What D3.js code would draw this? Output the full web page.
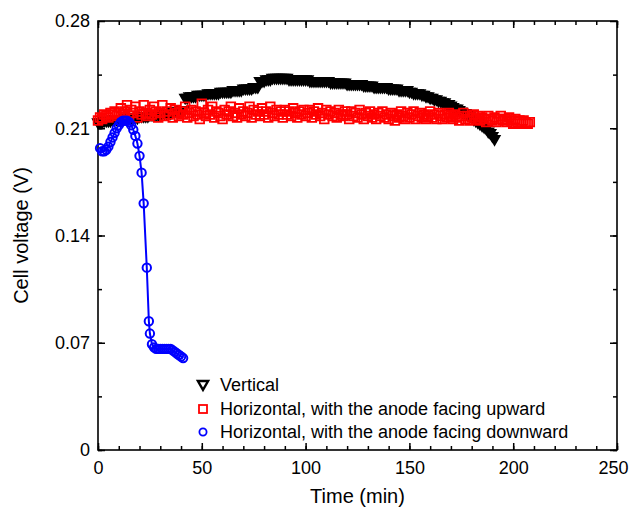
<!DOCTYPE html>
<html>
<head>
    <script src="https://cdn.jsdelivr.net/npm/d3@7"></script>
    <style>
        body { margin: 0; background: #fff; }
        text { font-family: "Liberation Sans", Arial, sans-serif; fill: #000; }
    </style>
</head>
<body>
<div id="chart"></div>
<script>

    // readings, one per minute
    var vertVolt = [
        .214,.214,.214,.215,.215,.215,.215,.216,.216,.216,
        .216,.216,.216,.217,.217,.217,.217,.217,.217,.217,
        .218,.218,.218,.218,.218,.219,.219,.219,.219,.219,
        .219,.220,.220,.220,.220,.220,.221,.221,.221,.221,
        .222,.222,.230,.230,.231,.231,.231,.231,.232,.232,
        .232,.232,.232,.233,.233,.233,.233,.233,.233,.234,
        .234,.234,.234,.234,.234,.235,.235,.235,.235,.235,
        .236,.236,.236,.236,.236,.237,.237,.237,.241,.241,
        .241,.242,.242,.242,.243,.243,.243,.243,.243,.243,
        .243,.243,.242,.242,.242,.242,.242,.242,.242,.242,
        .242,.242,.241,.241,.241,.241,.241,.241,.241,.241,
        .241,.241,.240,.240,.240,.240,.240,.240,.240,.240,
        .239,.239,.239,.239,.239,.239,.239,.239,.238,.238,
        .238,.238,.238,.237,.237,.237,.237,.237,.237,.237,
        .236,.236,.236,.236,.236,.235,.235,.235,.235,.235,
        .234,.234,.233,.233,.233,.233,.232,.232,.231,.231,
        .230,.230,.229,.229,.228,.228,.227,.227,.226,.226,
        .225,.224,.223,.223,.222,.221,.220,.220,.219,.218,
        .217,.216,.215,.214,.213,.212,.211,.210,.208,.207,
        .205,.203];
    var vertTime = d3.range(0, vertVolt.length);

    var upVolt = [
        .215,.217,.216,.219,.218,.217,.220,.219,.221,.218,
        .220,.223,.219,.221,.225,.218,.222,.220,.224,.217,
        .221,.219,.225,.220,.218,.222,.219,.224,.221,.217,
        .220,.225,.218,.221,.219,.223,.217,.222,.220,.218,
        .221,.219,.224,.217,.220,.222,.218,.221,.219,.216,
        .226,.220,.218,.222,.219,.224,.217,.221,.220,.218,
        .216,.222,.219,.221,.224,.218,.220,.217,.223,.219,
        .221,.218,.220,.224,.217,.222,.219,.221,.218,.223,
        .219,.221,.217,.224,.220,.218,.222,.219,.221,.217,
        .222,.219,.221,.218,.223,.220,.217,.221,.219,.222,
        .218,.220,.222,.217,.221,.219,.223,.218,.220,.216,
        .222,.219,.221,.218,.220,.217,.222,.219,.218,.221,
        .219,.216,.221,.218,.220,.217,.222,.219,.216,.220,
        .218,.221,.217,.219,.216,.220,.218,.221,.217,.219,
        .216,.220,.218,.215,.219,.217,.221,.218,.216,.220,
        .217,.219,.221,.216,.218,.220,.217,.219,.216,.218,
        .221,.217,.219,.216,.220,.218,.216,.219,.217,.220,
        .218,.216,.219,.217,.215,.218,.220,.216,.218,.215,
        .217,.219,.216,.218,.215,.217,.216,.214,.218,.216,
        .215,.217,.214,.216,.218,.215,.216,.214,.217,.215,
        .213,.216,.214,.215,.213,.215,.214,.213,.214];
    var upTime = d3.range(0, upVolt.length);

    var downTime = [1,2,3,4,5,6,7,8,9,10,11,12,13,14,15,16,17,18,19,20,21,22,23.5,24.5,25,26,27,28,29,30,31,32,33,34,35,36,37,38,39,40,41];
    var downVolt = [.197,.195,.195,.196,.198,.201,.204,.207,.210,.212,.214,.215,.215,.215,.214,.212,.209,.205,.200,.192,.181,.161,.119,.084,.076,.069,.067,.066,.066,.066,.066,.066,.066,.066,.066,.065,.064,.063,.062,.061,.060];

    var xTicks = [0, 50, 100, 150, 200, 250];
    var yTicks = [0, 0.07, 0.14, 0.21, 0.28];
    var legendLabels = ['Vertical', 'Horizontal, with the anode facing upward', 'Horizontal, with the anode facing downward'];

    var width = 630, height = 512;
    var plot = { left: 98, right: 617, top: 21, bottom: 450 };

    var svg = d3.select('#chart').append('svg')
        .attr('width', width)
        .attr('height', height);

    var x = d3.scaleLinear().domain([0, 250]).range([plot.left, plot.right]);
    var y = d3.scaleLinear().domain([0, 0.28]).range([plot.bottom, plot.top]);

    var xMinor = d3.range(0, 251, 10);
    var yMinor = d3.range(0, 8).map(function(i) { return i * 0.035; });

    // axes: ticks point inward on all four sides
    function drawAxis(axis, tx, ty, labels) {
        var g = svg.append('g')
            .attr('transform', 'translate(' + tx + ',' + ty + ')')
            .call(axis);
        g.select('.domain').remove();
        g.selectAll('line').attr('stroke', '#000').attr('stroke-width', 1.5);
        g.selectAll('text').style('font-size', '18px').attr('fill', '#000');
        if (!labels) g.selectAll('text').remove();
        return g;
    }

    drawAxis(d3.axisBottom(x).tickValues(xMinor).tickSizeInner(-4).tickSizeOuter(0).tickFormat(''), 0, plot.bottom, false);
    var xg = drawAxis(d3.axisBottom(x).tickValues(xTicks).tickSizeInner(-7).tickSizeOuter(0).tickPadding(11), 0, plot.bottom, true);
    xg.selectAll('text').filter(function(d) { return d === 250; }).attr('dx', -4);
    drawAxis(d3.axisTop(x).tickValues(xMinor).tickSizeInner(-4).tickSizeOuter(0).tickFormat(''), 0, plot.top, false);
    drawAxis(d3.axisTop(x).tickValues(xTicks).tickSizeInner(-7).tickSizeOuter(0).tickFormat(''), 0, plot.top, false);

    var yFmt = function(d) { return d === 0 ? '0' : d3.format('.2f')(d); };
    drawAxis(d3.axisLeft(y).tickValues(yMinor).tickSizeInner(-4).tickSizeOuter(0).tickFormat(''), plot.left, 0, false);
    drawAxis(d3.axisLeft(y).tickValues(yTicks).tickSizeInner(-7).tickSizeOuter(0).tickPadding(8).tickFormat(yFmt), plot.left, 0, true);
    drawAxis(d3.axisRight(y).tickValues(yMinor).tickSizeInner(-4).tickSizeOuter(0).tickFormat(''), plot.right, 0, false);
    drawAxis(d3.axisRight(y).tickValues(yTicks).tickSizeInner(-7).tickSizeOuter(0).tickFormat(''), plot.right, 0, false);

    svg.append('rect')
        .attr('x', plot.left)
        .attr('y', plot.top)
        .attr('width', plot.right - plot.left)
        .attr('height', plot.bottom - plot.top)
        .attr('fill', 'none')
        .attr('stroke', '#000')
        .attr('stroke-width', 1.6);

    var tri = d3.symbol().type(d3.symbolTriangle).size(50);
    var sq = d3.symbol().type(d3.symbolSquare).size(75);

    // vertical: dense down triangles
    svg.append('g').selectAll('path')
        .data(d3.zip(vertTime, vertVolt))
        .enter().append('path')
        .attr('d', tri)
        .attr('transform', function(d) { return 'translate(' + x(d[0]) + ',' + y(d[1]) + ') rotate(180)'; })
        .attr('fill', '#000')
        .attr('stroke', '#000')
        .attr('stroke-width', 1.5);

    // anode upward: open red squares
    svg.append('g').selectAll('path')
        .data(d3.zip(upTime, upVolt))
        .enter().append('path')
        .attr('d', sq)
        .attr('transform', function(d) { return 'translate(' + x(d[0]) + ',' + y(d[1]) + ')'; })
        .attr('fill', 'none')
        .attr('stroke', '#ff0000')
        .attr('stroke-width', 1.8);

    // anode downward: blue line with open circles
    var downData = d3.zip(downTime, downVolt);
    svg.append('path')
        .datum(downData)
        .attr('d', d3.line().x(function(d) { return x(d[0]); }).y(function(d) { return y(d[1]); }))
        .attr('fill', 'none')
        .attr('stroke', '#0000ff')
        .attr('stroke-width', 2);

    svg.append('g').selectAll('circle')
        .data(downData)
        .enter().append('circle')
        .attr('cx', function(d) { return x(d[0]); })
        .attr('cy', function(d) { return y(d[1]); })
        .attr('r', 4.2)
        .attr('fill', 'none')
        .attr('stroke', '#0000ff')
        .attr('stroke-width', 2);

    // legend
    var legendY = [385, 409, 432];
    var lg = svg.append('g');
    lg.append('path')
        .attr('d', d3.symbol().type(d3.symbolTriangle).size(45))
        .attr('transform', 'translate(203,' + (legendY[0] - 1) + ') rotate(180)')
        .attr('fill', '#fff').attr('stroke', '#000').attr('stroke-width', 2.4);
    lg.append('rect')
        .attr('x', 199).attr('y', legendY[1] - 4).attr('width', 8).attr('height', 8)
        .attr('fill', 'none').attr('stroke', '#ff0000').attr('stroke-width', 1.8);
    lg.append('circle')
        .attr('cx', 203).attr('cy', legendY[2]).attr('r', 3.6)
        .attr('fill', 'none').attr('stroke', '#0000ff').attr('stroke-width', 1.8);
    lg.selectAll('text')
        .data(legendLabels)
        .enter().append('text')
        .attr('x', 220)
        .attr('y', function(d, i) { return legendY[i]; })
        .attr('dy', '0.35em')
        .style('font-size', '18px')
        .text(function(d) { return d; });

    // axis titles
    svg.append('text')
        .attr('x', (plot.left + plot.right) / 2)
        .attr('y', 503)
        .attr('text-anchor', 'middle')
        .style('font-size', '20px')
        .text('Time (min)');

    svg.append('text')
        .attr('transform', 'translate(28,' + ((plot.top + plot.bottom) / 2) + ') rotate(-90)')
        .attr('text-anchor', 'middle')
        .style('font-size', '20px')
        .text('Cell voltage (V)');

</script>
</body>
</html>
